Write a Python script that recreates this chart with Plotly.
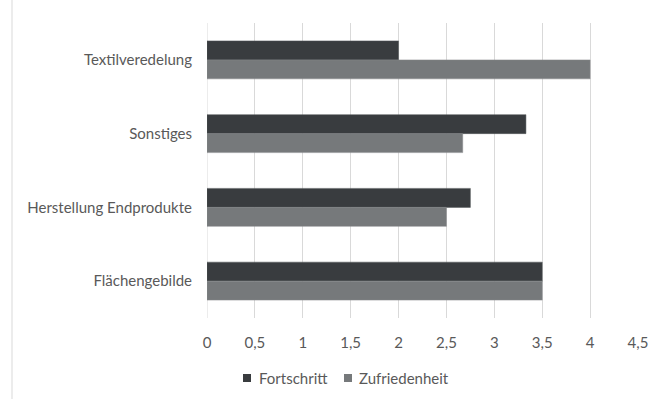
import plotly.graph_objects as go

categories = ["Textilveredelung", "Sonstiges", "Herstellung Endprodukte", "Flächengebilde"]
fortschritt = [2.0, 3.33, 2.75, 3.5]
zufriedenheit = [4.0, 2.67, 2.5, 3.5]
x_ticks = [0, 0.5, 1, 1.5, 2, 2.5, 3, 3.5, 4, 4.5]
series_names = ["Fortschritt", "Zufriedenheit"]
series_colors = ["#393c3f", "#76797b"]

W, H = 666, 399
L, R, T, B = 207, 28, 23, 81
pw, ph = W - L - R, H - T - B

fig = go.Figure()
for name, vals, col, edge in zip(series_names, [fortschritt, zufriedenheit], series_colors,
                                 ["#55585b", "#8a8d8f"]):
    fig.add_trace(go.Bar(y=categories, x=vals, name=name, orientation="h",
                         marker=dict(color=col, line=dict(color=edge, width=0.5))))

fig.update_layout(
    width=W, height=H,
    margin=dict(l=L, r=R, t=T, b=B, autoexpand=False),
    paper_bgcolor="white", plot_bgcolor="white",
    barmode="group", bargap=0.485, bargroupgap=0,
    separators=", ",
    font=dict(family="Lato, 'Open Sans', sans-serif", size=15, color="#595959"),
    xaxis=dict(range=[0, 4.5], tickvals=x_ticks, showgrid=True, gridcolor="#d9d9d9", gridwidth=1,
               zeroline=False, showline=False, ticks="", ticklabelstandoff=14,
               tickfont=dict(size=15, color="#595959")),
    yaxis=dict(autorange="reversed", showgrid=False, zeroline=False, showline=False, ticks="",
               ticklabelstandoff=14, tickfont=dict(size=15, color="#595959")),
    showlegend=False,
)

def px_x(x):
    return (x - L) / pw

def px_y(y):
    return (H - B - y) / ph

# chart frame left edge
fig.add_shape(type="line", xref="paper", yref="paper", x0=px_x(12), x1=px_x(12),
              y0=px_y(399), y1=px_y(0), line=dict(color="#d9d9d9", width=1))
# axis line at zero
fig.add_shape(type="line", xref="x", yref="paper", x0=0, x1=0, y0=0, y1=1,
              line=dict(color="#d9d9d9", width=1), layer="below")

# legend
leg_y = 378
leg_items = [(243, 257), (344, 357)]
for (sx, tx), name, col in zip(leg_items, series_names, series_colors):
    fig.add_shape(type="rect", xref="paper", yref="paper",
                  x0=px_x(sx), x1=px_x(sx + 8), y0=px_y(leg_y + 4), y1=px_y(leg_y - 4),
                  fillcolor=col, line=dict(width=0))
    fig.add_annotation(x=px_x(tx), y=px_y(leg_y), xref="paper", yref="paper", text=name,
                       showarrow=False, xanchor="left", yanchor="middle",
                       font=dict(size=15, color="#595959"))

fig.write_html("out.html")
